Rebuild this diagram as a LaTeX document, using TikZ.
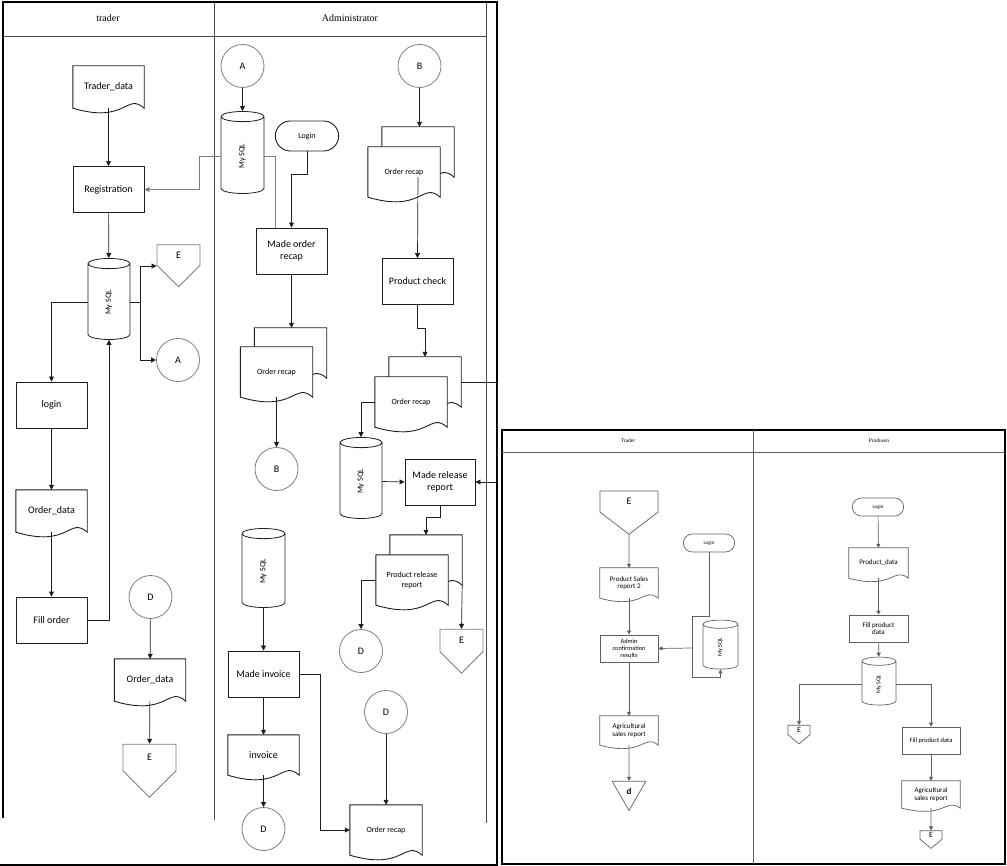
\documentclass[tikz,border=0pt]{standalone}
\usepackage{fontspec}
\usepackage{graphicx}
\setmainfont{Carlito}
\newfontfamily\headfont{Liberation Serif}
\usepackage{tikz}
\usetikzlibrary{shapes,shapes.geometric,shapes.symbols,shapes.misc,arrows.meta,positioning,calc,backgrounds}
\definecolor{inkline}{RGB}{30,30,30}
\definecolor{greyline}{RGB}{125,125,125}
\definecolor{softline}{RGB}{95,95,95}

% outline of a document symbol (wavy foot) behind a named node
\newcommand{\docpath}[2][16]{%
  \draw[docline] (#2.north west) -- (#2.north east) -- (#2.south east)
    .. controls ($(#2.south west)!0.75!(#2.south east)+(0,-#1)$)
    and ($(#2.south west)!0.75!(#2.south east)+(0,#1)$) .. (#2.south west) -- cycle;}

\begin{document}
\begin{tikzpicture}[x=1pt, y=-1pt,
    every node/.style={font=\fontsize{10}{12}\selectfont},
    head/.style={font=\headfont\fontsize{10}{12}\selectfont},
    proc/.style={rectangle, draw=inkline, line width=0.9pt, minimum width=71pt,
                 minimum height=46pt, align=center, inner sep=1pt},
    docbox/.style={rectangle, minimum width=71pt, minimum height=42pt, align=center, inner sep=1pt},
    multi/.style={docbox, minimum width=72pt, minimum height=50pt, font=\fontsize{8}{10}\selectfont},
    docline/.style={draw=inkline, line width=0.9pt, fill=white},
    dbase/.style={cylinder, shape border rotate=90, aspect=1.2, draw=inkline, line width=0.8pt,
                  minimum width=42pt, minimum height=81pt, inner sep=1pt, font=\fontsize{8}{9}\selectfont},
    term/.style={rounded rectangle, draw=inkline, line width=0.9pt, minimum width=70pt,
                 minimum height=30pt, font=\fontsize{8}{9}\selectfont},
    link/.style={circle, draw=greyline, line width=0.8pt, minimum size=43pt, inner sep=0pt},
    offpage/.style={signal, signal to=south, draw=greyline, line width=0.8pt,
                    minimum width=43pt, minimum height=23pt, inner sep=0pt},
    frame/.style={line width=2.2pt, draw=black},
    lane/.style={line width=0.7pt, draw=inkline!80},
    wire/.style={line width=0.7pt, draw=inkline},
    arrow/.style={wire, -{Triangle[length=5pt, width=5pt]}},
    greyarrow/.style={arrow, draw=greyline},
    rp/.style={draw=softline, line width=0.7pt},
    rarrow/.style={rp, -{Triangle[length=4pt, width=4pt]}},
    txtseven/.style={font=\fontsize{7}{7.5}\selectfont}
]
\useasboundingbox (0,0) rectangle (1007,866);

% Frames and lanes
\draw[frame] (0,865) -- (498,865);
\draw[frame] (3,818) -- (3,2) -- (497,2) -- (497,866);
\draw[lane] (3,36) -- (486,36);
\draw[lane] (214,2) -- (214,820);
\draw[lane] (486,2) -- (486,823);
\draw[frame] (502,430) rectangle (1005,864);
\draw[lane, draw=softline] (502,452) -- (1005,452);
\draw[lane, draw=softline] (753,430) -- (753,864);

\node[head] (htrader) at (108,18) {trader};
\node[head] (hadmin)  at (350,18) {Administrator};
\node[head, font=\headfont\fontsize{5.5}{6}\selectfont] (htrader2) at (628,441) {Trader};
\node[head, font=\headfont\fontsize{5.5}{6}\selectfont] (hprod)    at (879,441) {Produsen};

% Trader lane
\node[docbox] (trdata)  at (108.5,87)  {Trader\_data};
\node[proc]   (reg)     at (108.5,189.5) {Registration};
\node[dbase]  (trsql)   at (109,302.5) {\rotatebox{90}{My SQL}};
\node[offpage] (trE)    at (178.5,255) {E};
\node[link]   (trA)     at (178,360)   {A};
\node[proc]   (login)   at (51.5,405)  {login};
\node[docbox] (orddata) at (51.5,511)  {Order\_data};
\node[proc]   (fill)    at (51.5,620)  {Fill order};
\node[link]   (trD)     at (150.5,597) {D};
\node[docbox] (orddata2) at (150,680)  {Order\_data};
\node[offpage, minimum width=53pt, minimum height=29pt] (trE2) at (149.5,757.5) {E};

% Administrator lane, left column
\node[link]  (adA)     at (242.5,66)  {A};
\node[dbase, minimum width=43pt, minimum height=82pt] (adsql) at (242.5,156) {\rotatebox{90}{My SQL}};
\node[term]  (loginA)  at (307,136)   {Login};
\node[proc]  (mkrecap) at (291.5,251) {Made order\\recap};
\node[multi] (recap1b) at (290.5,353) {};
\node[multi] (recap1)  at (276.5,372) {Order recap};
\node[link]  (adB)     at (276.5,469) {B};
\node[dbase, minimum width=43pt, minimum height=79pt] (sql3) at (263.5,571.5) {\rotatebox{90}{My SQL}};
\node[proc]  (mkinv)   at (263.5,674) {Made invoice};
\node[docbox, minimum height=40pt] (invoice) at (263.5,755) {invoice};
\node[link]  (invD)    at (263.5,829) {D};

% Administrator lane, right column
\node[link]  (topB)    at (419.5,66)  {B};
\node[multi] (recap0b) at (418,152)   {};
\node[multi] (recap0)  at (404,172)   {Order recap};
\node[proc]  (check)   at (417.5,281.5) {Product check};
\node[multi] (recap2b) at (425,382)   {};
\node[multi] (recap2)  at (411,402)   {Order recap};
\node[dbase] (sql2)    at (361,481.5) {\rotatebox{90}{My SQL}};
\node[proc, minimum width=70pt] (mkrel) at (440,482) {Made release\\report};
\node[multi] (relrepb) at (426,560)   {};
\node[multi] (relrep)  at (412,580)   {Product release\\report};
\node[link]  (relD)    at (361,651)   {D};
\node[offpage, minimum height=25pt] (relE) at (461.5,640.5) {E};
\node[link]  (recD)    at (386,712)   {D};
\node[multi] (recap3)  at (386,830)   {Order recap};

% Second chart: trader
\node[offpage, rp, minimum width=58pt, minimum height=23pt, signal pointer angle=105] (rE) at (629,501.5) {E};
\node[docbox, txtseven, minimum width=58pt, minimum height=30pt] (psr2) at (629,583) {Product Sales\\report 2};
\node[proc, rp, minimum width=58pt, minimum height=27pt, font=\fontsize{6.3}{7.3}\selectfont] (admconf) at (629,648.5) {Admin\\confirmation\\results};
\node[term, rp, minimum width=58pt, minimum height=18pt, font=\fontsize{5}{6}\selectfont] (rlogin) at (709,543) {Login};
\node[dbase, rp, minimum width=35pt, minimum height=49pt, font=\fontsize{6}{7}\selectfont] (rsql) at (720.5,647.5) {\rotatebox{90}{My SQL}};
\node[docbox, txtseven, minimum width=58pt, minimum height=29pt] (agr) at (629,730.5) {Agricultural\\sales report};
\node[regular polygon, regular polygon sides=3, shape border rotate=180, rp, minimum size=39pt, inner sep=0pt, font=\bfseries\fontsize{9}{10}\selectfont] (rd) at (629,791) {d};

% Second chart: producer
\node[term, rp, minimum width=58pt, minimum height=18pt, font=\fontsize{5}{6}\selectfont] (plogin) at (878,507) {Login};
\node[docbox, txtseven, minimum width=59pt, minimum height=30pt] (pdata) at (878.5,563) {Product\_data};
\node[proc, rp, txtseven, minimum width=59pt, minimum height=27pt] (pfill) at (878.5,628.5) {Fill product\\data};
\node[dbase, rp, minimum width=34pt, minimum height=48pt, font=\fontsize{6}{7}\selectfont] (psql) at (879,684) {\rotatebox{90}{My SQL}};
\node[offpage, rp, minimum width=22pt, minimum height=11pt, signal pointer angle=100, font=\fontsize{8}{8}\selectfont] (pE) at (799,730) {E};
\node[proc, rp, minimum width=58pt, minimum height=27pt, font=\fontsize{6.5}{7}\selectfont] (pfill2) at (931,740.5) {Fill product data};
\node[docbox, txtseven, minimum width=58pt, minimum height=27pt] (pagr) at (931,794.5) {Agricultural\\sales report};
\node[offpage, rp, minimum width=22pt, minimum height=10pt, signal pointer angle=100, font=\fontsize{8}{8}\selectfont] (pE2) at (931,835) {E};

% Document outlines
\begin{scope}[on background layer]
  \docpath{trdata} \docpath{orddata} \docpath{orddata2}
  \docpath{recap1b} \docpath{recap1} \docpath{invoice}
  \docpath{recap0b} \docpath{recap0} \docpath{recap2b} \docpath{recap2}
  \docpath{relrepb} \docpath{relrep} \docpath{recap3}
  \begin{scope}[docline/.append style={draw=softline, line width=0.7pt}]
    \docpath[12]{psr2} \docpath[12]{agr} \docpath[12]{pdata} \docpath[11]{pagr}
  \end{scope}
\end{scope}

% Arrows trader lane
\coordinate (trsplit) at ($(trsql.east)+(10,0)$);
\draw[arrow] (trdata) -- (reg);
\draw[arrow] (reg) -- (trsql);
\draw[wire]  (trsql.east) -- (trsplit);
\draw[arrow] (trsplit) |- ([yshift=-11pt]trE.west);
\draw[arrow] (trsplit) |- (trA.west);
\draw[arrow] (trsql.west) -| (login.north);
\draw[arrow] (login) -- (orddata);
\draw[arrow] (orddata) -- (fill);
\draw[arrow] (fill.east) -| (trsql.south);
\draw[arrow] (trD) -- (orddata2);
\draw[arrow] (orddata2) -- (trE2);

% Arrows administrator lane
\coordinate (rim) at (497,0);
\draw[arrow] (adA) -- (adsql);
\draw[greyarrow] (adsql.west) -- ++(-21,0) |- (reg.east);
\draw[wire, draw=greyline] (adsql.east) -| ([xshift=20pt]mkrecap.north west);
\draw[arrow] (loginA.south) -- ++(0,23) -| (mkrecap.north);
\draw[arrow] (mkrecap.south) -- (mkrecap.south |- recap1b.north);
\draw[arrow] (recap1.south) -- (adB.north);
\draw[arrow] (topB) -- (topB |- recap0b.north);
\draw[arrow] (recap0b.south) -- (check.north);
\draw[arrow] (check.south) -- ++(0,23) -| (recap2b.north);
\draw[arrow] (recap2b.east) -- (recap2b.east -| rim) -- (rim |- mkrel.east) -- (mkrel.east);
\draw[arrow] (recap2.west) -| (sql2.north);
\draw[arrow] (sql2.east) -- (mkrel.west);
\draw[arrow] (mkrel.south) -- ++(0,12) -| (relrepb.north);
\draw[arrow] (relrep.west) -| (relD.north);
\draw[arrow] (relrepb.south east) -- (relE.north);
\draw[arrow] (sql3) -- (mkinv);
\draw[arrow] (mkinv) -- (invoice);
\draw[arrow] (invoice) -- (invD);
\draw[arrow] (mkinv.east) -- ++(21,0) |- (recap3.west);
\draw[arrow] (recD) -- (recap3);

% Arrows second chart
\coordinate (rbus) at (692,648);
\draw[rarrow] (rE) -- (psr2);
\draw[rarrow] (psr2) -- (admconf);
\draw[rp] (rlogin.south) -- ++(0,64) -| (rbus);
\draw[rarrow] (rbus) -- (admconf.east);
\draw[rarrow] (rbus) |- ($(rsql.south)+(0,8)$) -- (rsql.south);
\draw[rarrow] (admconf) -- (agr);
\draw[rarrow] (agr) -- (rd);
\draw[rarrow] (plogin) -- (pdata);
\draw[rarrow] (pdata) -- (pfill);
\draw[rarrow] (pfill) -- (psql);
\draw[rarrow] (psql.west) -| (pE.north);
\draw[rarrow] (psql.east) -| (pfill2.north);
\draw[rarrow] (pfill2) -- (pagr);
\draw[rarrow] (pagr) -- (pE2);

\end{tikzpicture}
\end{document}
